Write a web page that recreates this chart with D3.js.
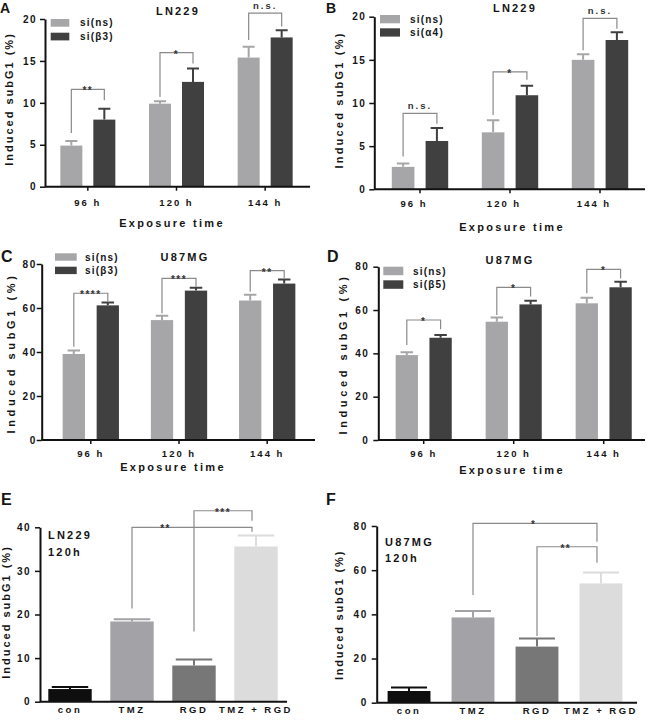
<!DOCTYPE html>
<html><head><meta charset="utf-8">
<script src="https://cdn.jsdelivr.net/npm/d3@7"></script>
<style>
body{margin:0;background:#fff}
svg text{font-family:"Liberation Sans",Arial,Helvetica,sans-serif;font-weight:bold;fill:#151515}
</style></head><body>
<svg id="c" width="650" height="722"></svg>
<script>
// ---------------- DATA ----------------
const timeGroups = ["96 h", "120 h", "144 h"];
const treatments = ["con", "TMZ", "RGD", "TMZ + RGD"];
const yLabel = "Induced subG1 (%)";
const xTitle = "Exposure time";

// Panel A (LN229, si(ns) vs si(β3))
const seriesA = ["si(ns)", "si(β3)"];
const meanA_ns = [4.9, 9.9, 15.4];
const semA_ns = [0.55, 0.3, 1.3];
const meanA_b3 = [8.0, 12.5, 17.8];
const semA_b3 = [1.3, 1.6, 0.85];
const ticksA = [0, 5, 10, 15, 20];
const sigA = [
  { g: 0, top: 11.6, l: 6.4, r: 10.3, label: "**" },
  { g: 1, top: 16.0, l: 10.7, r: 14.7, label: "*" },
  { g: 2, top: 20.7, l: 17.5, r: 19.1, label: "n.s." }
];

// Panel B (LN229, si(ns) vs si(α4))
const seriesB = ["si(ns)", "si(α4)"];
const meanB_ns = [2.6, 6.6, 15.0];
const semB_ns = [0.4, 1.4, 0.65];
const meanB_a4 = [5.6, 10.9, 17.3];
const semB_a4 = [1.5, 1.1, 0.9];
const ticksB = [0, 5, 10, 15, 20];
const sigB = [
  { g: 0, top: 8.8, l: 3.8, r: 7.6, label: "n.s." },
  { g: 1, top: 13.6, l: 8.6, r: 12.7, label: "*" },
  { g: 2, top: 19.8, l: 16.1, r: 18.6, label: "n.s." }
];

// Panel C (U87MG, si(ns) vs si(β3))
const seriesC = ["si(ns)", "si(β3)"];
const meanC_ns = [39.1, 54.5, 63.4];
const semC_ns = [1.6, 2.0, 2.6];
const meanC_b3 = [61.2, 67.9, 71.1];
const semC_b3 = [1.3, 1.3, 1.8];
const ticksC = [0, 20, 40, 60, 80];
const sigC = [
  { g: 0, top: 66.7, l: 42.4, r: 62.9, label: "****" },
  { g: 1, top: 73.5, l: 57.6, r: 69.7, label: "***" },
  { g: 2, top: 77.0, l: 67.4, r: 73.5, label: "**" }
];

// Panel D (U87MG, si(ns) vs si(β5))
const seriesD = ["si(ns)", "si(β5)"];
const meanD_ns = [39.2, 54.6, 63.1];
const semD_ns = [1.3, 1.9, 2.6];
const meanD_b5 = [47.2, 62.6, 70.5];
const semD_b5 = [1.3, 1.7, 2.6];
const ticksD = [0, 20, 40, 60, 80];
const sigD = [
  { g: 0, top: 55.4, l: 43.8, r: 51.1, label: "*" },
  { g: 1, top: 70.5, l: 57.7, r: 66.2, label: "*" },
  { g: 2, top: 78.8, l: 67.7, r: 74.6, label: "*" }
];

// Panel E (LN229 120h)
const meanE = [2.9, 18.4, 8.3, 35.6];
const semE = [0.5, 0.5, 1.4, 2.5];
const ticksE = [0, 10, 20, 30, 40];
const sigE = [
  { from: 1, to: 3, top: 40.0, l: 21.4, r: 39.0, label: "**", at: 0.28 },
  { from: 2, to: 3, top: 43.8, l: 16.1, r: 41.5, label: "***", at: 0.5 }
];

// Panel F (U87MG 120h)
const meanF = [5.3, 38.6, 25.4, 54.0];
const semF = [1.6, 2.9, 3.7, 4.9];
const ticksF = [0, 20, 40, 60, 80];
const sigF = [
  { from: 1, to: 3, top: 81.2, l: 48.8, r: 72.9, label: "*", at: 0.49 },
  { from: 2, to: 3, top: 70.6, l: 30.2, r: 63.4, label: "**", at: 0.48 }
];

// ---------------- STYLE ----------------
const cLight = "#a6a6a9", cDark = "#404040";
const treatColors = ["#0e0e0e", "#a3a3a7", "#777777", "#dcdcdc"];
const bracketColor = "#8a8a8a";

const svg = d3.select("#c");

function text(g, x, y, s, size, ls, anchor, rot) {
  const t = g.append("text").attr("x", x).attr("y", y).text(s)
    .style("font-size", size + "px").style("letter-spacing", ls + "px")
    .attr("text-anchor", anchor || "start");
  if (rot) t.attr("transform", `rotate(${rot},${x},${y})`);
  return t;
}

function yAxis(g, cfg, y) {
  const ax = g.append("g").attr("transform", `translate(${cfg.axisX},0)`)
    .call(d3.axisLeft(y).tickValues(cfg.ticks).tickSize(5).tickSizeOuter(0).tickPadding(cfg.yPad));
  ax.select(".domain").attr("stroke", "#111").attr("stroke-width", 2);
  ax.selectAll(".tick line").attr("stroke", "#111").attr("stroke-width", 1.5);
  ax.selectAll(".tick text").style("font-size", "10px").style("letter-spacing", "1.5px")
    .attr("fill", "#151515").attr("font-family", null);
}

function xAxis(g, cfg, x, tickSize) {
  const ax = g.append("g").attr("transform", `translate(0,${cfg.yBottom})`)
    .call(d3.axisBottom(x).tickSize(tickSize).tickSizeOuter(0).tickPadding(cfg.xPad));
  ax.select(".domain").remove();
  ax.append("line").attr("x1", cfg.axisX).attr("x2", cfg.axisEnd)
    .attr("stroke", "#111").attr("stroke-width", 2);
  ax.selectAll(".tick line").attr("stroke", "#111").attr("stroke-width", 1.5);
  ax.selectAll(".tick text").style("font-size", "9.5px").style("letter-spacing", cfg.xLs + "px")
    .attr("fill", "#151515").attr("dx", cfg.xDx || 0);
}

function bracketLabel(g, xm, yTop, label) {
  const isStar = label.indexOf("*") >= 0;
  text(g, xm, isStar ? yTop + 5 : yTop - 4, label, isStar ? 10 : 9.5, isStar ? 1.5 : 2, "middle")
    .style("fill", "#333");
}

function grouped(cfg) {
  const g = svg.append("g");
  const y = d3.scaleLinear().domain([0, cfg.yMax]).range([cfg.yBottom, cfg.yTop]);
  const x0 = d3.scaleBand().domain(timeGroups).range(cfg.band);
  const w = cfg.barW, gap = cfg.barGap;
  const x1 = d3.scaleBand().domain(cfg.series).range([-w - gap / 2, w + gap / 2]).paddingInner(gap / (w + gap));
  const colors = [cLight, cDark];
  const cx = (gi, si) => x0(timeGroups[gi]) + x0.bandwidth() / 2 + x1(cfg.series[si]) + x1.bandwidth() / 2;

  cfg.series.forEach((s, si) => {
    const m = cfg.means[si], e = cfg.sems[si];
    timeGroups.forEach((tg, gi) => {
      const xc = cx(gi, si);
      g.append("rect").attr("x", xc - x1.bandwidth() / 2).attr("width", x1.bandwidth())
        .attr("y", y(m[gi])).attr("height", y(0) - y(m[gi])).attr("fill", colors[si]);
      g.append("path").attr("d", `M${xc},${y(m[gi])}V${y(m[gi] + e[gi])}M${xc - cfg.capW / 2},${y(m[gi] + e[gi])}H${xc + cfg.capW / 2}`)
        .attr("stroke", colors[si]).attr("stroke-width", 2).attr("fill", "none");
    });
  });

  cfg.sig.forEach(b => {
    const xl = cx(b.g, 0), xr = cx(b.g, 1);
    g.append("path").attr("d", `M${xl},${y(b.l)}V${y(b.top)}H${xr}V${y(b.r)}`)
      .attr("stroke", bracketColor).attr("stroke-width", 1.2).attr("fill", "none");
    bracketLabel(g, (xl + xr) / 2, y(b.top), b.label);
  });

  yAxis(g, cfg, y);
  xAxis(g, cfg, x0, 4);

  // legend
  cfg.series.forEach((s, si) => {
    const ly = cfg.legY[si];
    g.append("rect").attr("x", cfg.legX).attr("y", ly).attr("width", cfg.swW).attr("height", cfg.swH).attr("fill", colors[si]);
    text(g, cfg.legTextX, ly + cfg.swH / 2 + 3.6, s, 10, 1.2, "start");
  });

  text(g, cfg.titleX, cfg.titleY, cfg.title, 11, 2.2, "middle");
  text(g, cfg.letterX, cfg.letterY, cfg.letter, cfg.letterSize || 16, 0, "start");
  text(g, cfg.yLabX, cfg.yLabY, yLabel, 11, cfg.yLabLs, "middle", -90);
  text(g, cfg.xTitleX, cfg.xTitleY, xTitle, 11, 2.3, "middle");
}

function single(cfg) {
  const g = svg.append("g");
  const y = d3.scaleLinear().domain([0, cfg.yMax]).range([cfg.yBottom, cfg.yTop]);
  const x = d3.scaleBand().domain(treatments).range(cfg.band).paddingInner(cfg.pIn).paddingOuter(cfg.pOut);
  const bw = x.bandwidth();
  const cx = i => x(treatments[i]) + bw / 2;

  treatments.forEach((t, i) => {
    const m = cfg.means[i], e = cfg.sems[i];
    g.append("rect").attr("x", x(t)).attr("width", bw).attr("y", y(m)).attr("height", y(0) - y(m)).attr("fill", treatColors[i]);
    g.append("path").attr("d", `M${cx(i)},${y(m)}V${y(m + e)}M${cx(i) - bw * 0.42},${y(m + e)}H${cx(i) + bw * 0.42}`)
      .attr("stroke", treatColors[i]).attr("stroke-width", 2).attr("fill", "none");
  });

  cfg.sig.forEach(b => {
    const xl = cx(b.from), xr = cx(b.to) - 4;
    g.append("path").attr("d", `M${xl},${y(b.l)}V${y(b.top)}H${xr}V${y(b.r)}`)
      .attr("stroke", bracketColor).attr("stroke-width", 1.2).attr("fill", "none");
    bracketLabel(g, xl + (xr - xl) * b.at, y(b.top), b.label);
  });

  yAxis(g, cfg, y);
  xAxis(g, cfg, x, 0);

  text(g, cfg.letterX, cfg.letterY, cfg.letter, 16, 0, "start");
  text(g, cfg.noteX, cfg.noteY[0], cfg.notes[0], 11, 2.2, "start");
  text(g, cfg.noteX, cfg.noteY[1], cfg.notes[1], 11, 2.2, "start");
  text(g, cfg.yLabX, cfg.yLabY, yLabel, 11, cfg.yLabLs, "middle", -90);
}

// ---------------- LAYOUT ----------------
grouped({
  letter: "A", letterX: 0, letterY: 13, letterSize: 14, title: "LN229", titleX: 178, titleY: 15,
  series: seriesA, means: [meanA_ns, meanA_b3], sems: [semA_ns, semA_b3], sig: sigA,
  yMax: 20, ticks: ticksA, yBottom: 186.7, yTop: 19, axisX: 45, axisEnd: 310, band: [43.5, 309.5],
  barW: 22, barGap: 11, capW: 12, yPad: 3, xPad: 9, xLs: 2,
  legX: 50.7, legY: [19, 32.7], swW: 18.6, swH: 7.7, legTextX: 80,
  yLabX: 13, yLabY: 99, yLabLs: 2, xTitleX: 172, xTitleY: 227
});
grouped({
  letter: "B", letterX: 326, letterY: 13, letterSize: 14, title: "LN229", titleX: 515, titleY: 11.5,
  series: seriesB, means: [meanB_ns, meanB_a4], sems: [semB_ns, semB_a4], sig: sigB,
  yMax: 20, ticks: ticksB, yBottom: 189.3, yTop: 16.7, axisX: 374.3, axisEnd: 645, band: [375, 645],
  barW: 22.6, barGap: 11.2, capW: 12.5, yPad: 3, xPad: 7, xLs: 2, xDx: -6,
  legX: 380, legY: [15, 28.3], swW: 20, swH: 8.3, legTextX: 410,
  yLabX: 343, yLabY: 100, yLabLs: 2.2, xTitleX: 512, xTitleY: 231
});
grouped({
  letter: "C", letterX: 1, letterY: 262, title: "U87MG", titleX: 185, titleY: 260.7,
  series: seriesC, means: [meanC_ns, meanC_b3], sems: [semC_ns, semC_b3], sig: sigC,
  yMax: 80, ticks: ticksC, yBottom: 440, yTop: 264, axisX: 41.7, axisEnd: 315, band: [46.7, 311.3],
  barW: 22.3, barGap: 11.7, capW: 12.5, yPad: 0, xPad: 6, xLs: 2,
  legX: 55, legY: [253.3, 266.7], swW: 21.7, swH: 7.4, legTextX: 85,
  yLabX: 15, yLabY: 353, yLabLs: 3.6, xTitleX: 173, xTitleY: 470.7
});
grouped({
  letter: "D", letterX: 327, letterY: 262, title: "U87MG", titleX: 510, titleY: 264,
  series: seriesD, means: [meanD_ns, meanD_b5], sems: [semD_ns, semD_b5], sig: sigD,
  yMax: 80, ticks: ticksD, yBottom: 440, yTop: 266.7, axisX: 378.3, axisEnd: 645, band: [378.7, 648.7],
  barW: 22.3, barGap: 11.5, capW: 12.5, yPad: 4, xPad: 6, xLs: 2,
  legX: 383.3, legY: [266.7, 280.3], swW: 20, swH: 8.5, legTextX: 413,
  yLabX: 347, yLabY: 354, yLabLs: 3.6, xTitleX: 512, xTitleY: 474
});
single({
  letter: "E", letterX: 1, letterY: 505, notes: ["LN229", "120h"], noteX: 48, noteY: [539, 555.5],
  means: meanE, sems: semE, sig: sigE,
  yMax: 40, ticks: ticksE, yBottom: 701.7, yTop: 527.3, axisX: 40, axisEnd: 287, band: [39, 287],
  pIn: 0.3, pOut: 0.15, yPad: 4, xPad: 5, xLs: 2.5, yLabX: 10, yLabY: 612, yLabLs: 2
});
single({
  letter: "F", letterX: 326, letterY: 505, notes: ["U87MG", "120h"], noteX: 385, noteY: [545.5, 562],
  means: meanF, sems: semF, sig: sigF,
  yMax: 80, ticks: ticksF, yBottom: 702.7, yTop: 526, axisX: 376.7, axisEnd: 637, band: [378, 632],
  pIn: 0.33, pOut: 0.15, yPad: 4, xPad: 5, xLs: 2.5, yLabX: 343, yLabY: 615, yLabLs: 1.8
});
</script>
</body></html>
